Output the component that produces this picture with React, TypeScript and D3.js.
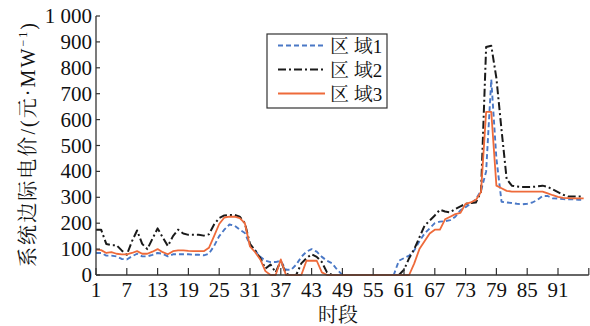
import React from "react";
import * as d3 from "d3";

// Periods (时段) 1..96
const periods: number[] = d3.range(1, 97);

// 区域1 (blue dashed)
const region1: number[] = [
  85, 85, 75, 75, 72, 62, 60, 72, 82, 72, 72, 78, 85, 82, 72, 80, 80, 80, 80, 78, 78, 76, 82,
  112, 150, 175, 195, 190, 175, 162, 115, 95, 70, 55, 50, 50, 55, 20, 20, 40, 70, 90, 100, 90, 70, 55, 45, 20, 0,
  0, 0, 0, 0, 0, 0, 0, 0, 0, 0,
  55, 65, 75, 95, 130, 160, 180, 200, 206, 208, 212, 225, 250, 262, 275, 292, 325, 400, 755, 450,
  283, 280, 278, 275, 273, 275, 280, 290, 305, 305, 296, 295, 293, 292, 292, 290, 290,
];

// 区域2 (black dash-dot)
const region2: number[] = [
  175, 175, 120, 115, 115, 95, 78, 130, 172, 120, 100, 140, 180, 145, 112, 150, 175, 160, 155, 155, 155, 152, 157,
  195, 220, 230, 232, 232, 225, 200, 120, 95, 65, 25, 40, 10, 55, 5, 0, 0, 45, 65, 80, 70, 50, 10, 0, 0,
  0, 0, 0, 0, 0, 0, 0, 0, 0, 0, 0, 0,
  20, 65, 100, 145, 190, 210, 230, 252, 245, 242, 255, 265, 275, 278, 280, 320, 880, 885, 760, 560,
  370, 345, 342, 340, 340, 340, 342, 345, 340, 330, 320, 310, 303, 303, 303, 303,
];

// 区域3 (orange solid)
const region3: number[] = [
  98, 96, 85, 88, 82, 80, 80, 85, 92, 82, 82, 90, 100, 88, 80, 92, 95, 95, 93, 92, 92, 92, 105,
  150, 197, 222, 225, 225, 220, 200, 110, 88, 60, 15, 0, 0, 60, 0, 0, 0, 0, 55, 55, 55, 10, 0,
  0, 0, 0, 0, 0, 0, 0, 0, 0, 0, 0, 0, 0, 0, 0, 0,
  45, 100, 130, 160, 175, 175, 215, 225, 235, 240, 275, 280, 290, 320, 630, 630, 345, 335, 325,
  322, 322, 322, 322, 322, 322, 322, 315, 308, 302, 298, 297, 296, 296, 296,
];

const xTicks: number[] = d3.range(1, 98, 6);
const yTicks: number[] = d3.range(0, 1001, 100);
const seriesNames: string[] = ["区 域1", "区 域2", "区 域3"];

const W = 590;
const H = 326;
const FONT = "'Liberation Serif', 'Noto Serif CJK SC', 'Noto Sans CJK SC', serif";

export default function App() {
  const x = d3.scaleLinear().domain([1, 97]).range([96, 588.8]);
  const y = d3.scaleLinear().domain([0, 1000]).range([275, 16]);

  const line = d3
    .line<number>()
    .x((_, i) => x(periods[i]))
    .y((d) => y(d));

  const styles = [
    { color: "#4a78c6", dash: "5,3", width: 1.9 },
    { color: "#1a1a1a", dash: "8,3,2,3", width: 2 },
    { color: "#ee6a3a", dash: "", width: 1.8 },
  ];
  const data = [region1, region2, region3];
  const axisColor = "#333";

  const legendX = 267;
  const legendY = 34;

  return (
    <svg
      width={W}
      height={H}
      style={{ position: "absolute", left: 0, top: 0, background: "#fff" }}
      fontFamily={FONT}
    >
      <rect x={0} y={0} width={W} height={H} fill="#fff" />
      {/* series */}
      {data.map((s, k) => (
        <path
          key={k}
          d={line(s) || ""}
          fill="none"
          stroke={styles[k].color}
          strokeWidth={styles[k].width}
          strokeDasharray={styles[k].dash || undefined}
          strokeLinejoin="round"
        />
      ))}

      {/* axes */}
      <line x1={x(1)} x2={x(1)} y1={y(0)} y2={y(1000)} stroke={axisColor} strokeWidth={1.3} />
      <line x1={x(1)} x2={x(97)} y1={y(0)} y2={y(0)} stroke={axisColor} strokeWidth={1.3} />
      {yTicks.map((t) => (
        <g key={"y" + t}>
          <line x1={x(1)} x2={x(1) + 4} y1={y(t)} y2={y(t)} stroke={axisColor} strokeWidth={1.2} />
          <text
            x={92}
            y={y(t)}
            textAnchor="end"
            dominantBaseline="central"
            fontSize={21}
            fill="#111"
          >
            {t === 1000 ? "1 000" : String(t)}
          </text>
        </g>
      ))}
      {xTicks.map((t) => (
        <g key={"x" + t}>
          <line x1={x(t)} x2={x(t)} y1={y(0)} y2={y(0) - 7} stroke={axisColor} strokeWidth={1.2} />
          {t <= 91 && (
            <text x={x(t)} y={297} textAnchor="middle" fontSize={21} fill="#111">
              {String(t)}
            </text>
          )}
        </g>
      ))}

      {/* axis titles */}
      <text x={338} y={322} textAnchor="middle" fontSize={20} fill="#111">
        时段
      </text>
      <text
        transform="translate(35,145) rotate(-90)"
        textAnchor="middle"
        fontSize={20}
        fill="#111"
        textLength={244}
        lengthAdjust="spacing"
      >
        系统边际电价/(元·MW<tspan fontSize={12} dy={-8}>−1</tspan>
        <tspan dy={8}>)</tspan>
      </text>

      {/* legend */}
      <rect
        x={legendX}
        y={legendY}
        width={120}
        height={74}
        fill="#fff"
        stroke="#333"
        strokeWidth={1.2}
      />
      {seriesNames.map((n, k) => {
        const ly = [45.5, 69.5, 93.5][k];
        return (
          <g key={n}>
            <line
              x1={278}
              x2={325}
              y1={ly}
              y2={ly}
              stroke={styles[k].color}
              strokeWidth={styles[k].width}
              strokeDasharray={styles[k].dash || undefined}
            />
            <text x={330} y={ly + 1} dominantBaseline="central" fontSize={19} fill="#111">
              {n}
            </text>
          </g>
        );
      })}
    </svg>
  );
}
